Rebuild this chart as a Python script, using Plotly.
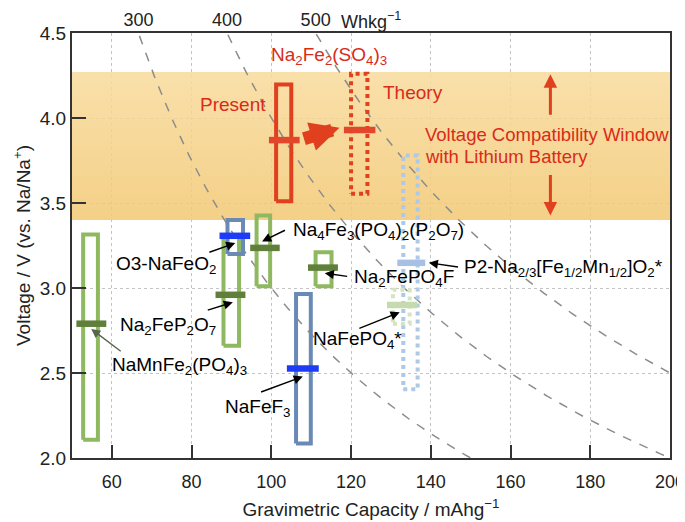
import numpy as np
import plotly.graph_objects as go

# ---------------- data ----------------
# rectangles (capacity range / voltage range) for each material
box_names = ["NaMnFe2(PO4)3", "Na2FeP2O7", "O3-NaFeO2", "Na4Fe3(PO4)2(P2O7)", "NaFeF3",
             "Na2FePO4F", "Na2Fe2(SO4)3 present", "Na2Fe2(SO4)3 theory",
             "P2-Na2/3[Fe1/2Mn1/2]O2", "NaFePO4"]
box_c_lo = [52.8, 88.0, 89.0, 96.3, 106.2, 111.1, 101.2, 120.0, 133.1, 130.5]
box_c_hi = [56.5, 91.9, 92.9, 99.7, 109.9, 115.1, 105.0, 124.1, 136.7, 134.7]
box_v_lo = [2.108, 2.66, 3.20, 3.01, 2.085, 3.01, 3.51, 3.555, 2.405, 2.79]
box_v_hi = [3.315, 3.31, 3.40, 3.427, 2.965, 3.21, 4.197, 4.26, 3.78, 2.99]
# average-voltage bars
bar_c_lo = [51.1, 86.0, 87.0, 94.7, 103.9, 109.2, 99.4, 118.2, 131.6, 129.0]
bar_c_hi = [58.6, 93.5, 94.7, 102.1, 111.9, 116.7, 107.1, 126.1, 138.6, 136.6]
bar_v = [2.79, 2.96, 3.307, 3.236, 2.527, 3.12, 3.87, 3.93, 3.148, 2.90]

# voltage compatibility window
band_v_lo = 3.40
band_v_hi = 4.27

# iso-energy-density curves (Wh/kg)
energy_levels = [300, 400, 500]
top_tick_text = ["300", "400", "500"]

x_ticks = [60, 80, 100, 120, 140, 160, 180, 200]
y_ticks = [2.0, 2.5, 3.0, 3.5, 4.0, 4.5]

# material labels with arrows
label_text = ["O3-NaFeO<sub>2</sub>", "Na<sub>2</sub>FeP<sub>2</sub>O<sub>7</sub>",
              "NaMnFe<sub>2</sub>(PO<sub>4</sub>)<sub>3</sub>",
              "Na<sub>4</sub>Fe<sub>3</sub>(PO<sub>4</sub>)<sub>2</sub>(P<sub>2</sub>O<sub>7</sub>)",
              "Na<sub>2</sub>FePO<sub>4</sub>F",
              "P2-Na<sub>2/3</sub>[Fe<sub>1/2</sub>Mn<sub>1/2</sub>]O<sub>2</sub>*",
              "NaFePO<sub>4</sub>*", "NaFeF<sub>3</sub>"]
label_c = [73.46, 73.96, 76.98, 126.9, 133.2, 173.3, 121.6, 96.42]
label_v = [3.138, 2.778, 2.542, 3.338, 3.061, 3.12, 2.696, 2.295]
arrow_tail_c = [84.08, 83.68, 62.6, 103.8, 119.4, 147.2, 121.7, 97.05]
arrow_tail_v = [3.207, 2.867, 2.621, 3.344, 3.067, 3.122, 2.759, 2.385]
arrow_head_c = [90.95, 90.35, 54.82, 97.68, 113.4, 139.5, 132.2, 107.9]
arrow_head_v = [3.264, 2.916, 2.759, 3.274, 3.087, 3.148, 2.857, 2.479]

# Na2Fe2(SO4)3 annotations
present_to_theory_c = [107.8, 117.1]
present_to_theory_v = [3.875, 3.942]
window_arrow_c = 170.0
window_up_v = [4.01, 4.258]
window_down_v = [3.673, 3.427]

# ---------------- styles ----------------
FONT = "Liberation Sans, Arial, Helvetica, sans-serif"
GREEN_BOX = "#8fb960"
GREEN_BAR = "#5f7f3a"
SLATE = "#6a8ab5"
BLUE = "#1e3cf5"
RED = "#e0401e"
RED_TXT = "#d92b1a"
LBLUE = "#aec8e8"
LGREEN = "#d3e4c0"

box_colors = [GREEN_BOX, GREEN_BOX, SLATE, GREEN_BOX, SLATE, GREEN_BOX, RED, RED, LBLUE, LGREEN]
box_dash = ["solid"] * 7 + ["dot", "dot", "dot"]
bar_colors = [GREEN_BAR, GREEN_BAR, BLUE, GREEN_BAR, BLUE, GREEN_BAR, "#e2472b", "#e2472b",
              "#a7c0e4", "#c6dab0"]
arrow_colors = ["black", "black", "#56664a", "black", "black", "black", "black", "black"]

fig = go.Figure()

# band (gradient)
fig.add_trace(go.Scatter(
    x=[50, 200, 200, 50, 50],
    y=[band_v_lo, band_v_lo, band_v_hi, band_v_hi, band_v_lo],
    mode="lines", line=dict(width=0), fill="toself",
    fillgradient=dict(type="vertical",
                      colorscale=[[0, "rgba(242,200,114,0.85)"], [1, "rgba(248,218,155,0.85)"]]),
    hoverinfo="skip", showlegend=False))

# iso-energy curves
c_grid = np.linspace(50, 200, 400)
for e in energy_levels:
    v = e / c_grid
    m = (v >= 2.0) & (v <= 4.5)
    fig.add_trace(go.Scatter(x=c_grid[m], y=v[m], mode="lines",
                             line=dict(color="#8c8c8c", width=1.5, dash="9px,9px"),
                             hoverinfo="skip", showlegend=False))

# boxes and bars
for i in range(len(box_names)):
    fig.add_trace(go.Scatter(
        x=[box_c_lo[i], box_c_hi[i], box_c_hi[i], box_c_lo[i], box_c_lo[i]],
        y=[box_v_lo[i], box_v_lo[i], box_v_hi[i], box_v_hi[i], box_v_lo[i]],
        mode="lines", line=dict(color=box_colors[i], width=4, dash=box_dash[i]),
        name=box_names[i], showlegend=False, hoverinfo="skip"))
    fig.add_trace(go.Scatter(
        x=[bar_c_lo[i], bar_c_hi[i]], y=[bar_v[i], bar_v[i]],
        mode="lines", line=dict(color=bar_colors[i], width=6.5),
        showlegend=False, hoverinfo="skip"))

# dummy trace for top axis
fig.add_trace(go.Scatter(x=[], y=[], xaxis="x2", showlegend=False))

ann = []
for i in range(len(label_text)):
    ann.append(dict(x=label_c[i], y=label_v[i], xref="x", yref="y", text=label_text[i],
                    showarrow=False, font=dict(size=19, color="black", family=FONT)))
    ann.append(dict(x=arrow_head_c[i], y=arrow_head_v[i], ax=arrow_tail_c[i], ay=arrow_tail_v[i],
                    xref="x", yref="y", axref="x", ayref="y", text="", showarrow=True,
                    arrowhead=2, arrowsize=1.3, arrowwidth=1.4, arrowcolor=arrow_colors[i]))

# Na2Fe2(SO4)3 texts
ann += [
    dict(x=114.4, y=4.364, xref="x", yref="y", showarrow=False,
         text="Na<sub>2</sub>Fe<sub>2</sub>(SO<sub>4</sub>)<sub>3</sub>",
         font=dict(size=19, color=RED_TXT, family=FONT)),
    dict(x=99.06, y=4.081, xref="x", yref="y", showarrow=False, xanchor="right",
         text="Present", font=dict(size=19, color=RED_TXT, family=FONT)),
    dict(x=127.6, y=4.152, xref="x", yref="y", showarrow=False, xanchor="left",
         text="Theory", font=dict(size=19, color=RED_TXT, family=FONT)),
    dict(x=138.0, y=3.905, xref="x", yref="y", showarrow=False, xanchor="left",
         text="Voltage Compatibility Window", font=dict(size=18.5, color=RED_TXT, family=FONT)),
    dict(x=138.0, y=3.771, xref="x", yref="y", showarrow=False, xanchor="left",
         text="with Lithium Battery", font=dict(size=18.5, color=RED_TXT, family=FONT)),
    dict(x=present_to_theory_c[1], y=present_to_theory_v[1],
         ax=present_to_theory_c[0], ay=present_to_theory_v[0],
         xref="x", yref="y", axref="x", ayref="y", text="", showarrow=True,
         arrowhead=2, arrowsize=0.45, arrowwidth=13, arrowcolor=RED),
    dict(x=window_arrow_c, y=window_up_v[1], ax=window_arrow_c, ay=window_up_v[0],
         xref="x", yref="y", axref="x", ayref="y", text="", showarrow=True,
         arrowhead=2, arrowsize=0.9, arrowwidth=3, arrowcolor=RED),
    dict(x=window_arrow_c, y=window_down_v[1], ax=window_arrow_c, ay=window_down_v[0],
         xref="x", yref="y", axref="x", ayref="y", text="", showarrow=True,
         arrowhead=2, arrowsize=0.9, arrowwidth=3, arrowcolor=RED),
    dict(x=117.1, y=1.0, xref="x", yref="paper", xanchor="left", yanchor="bottom",
         yshift=0, borderpad=0, showarrow=False, text="Whkg<sup>−1</sup>",
         font=dict(size=18, color="#222", family=FONT)),
]

axis_common = dict(ticks="inside", tickwidth=2, tickcolor="#333", showline=True,
                   linecolor="#333", linewidth=2, mirror=True, showgrid=True,
                   gridcolor="#c4c4c4", griddash="dot", gridwidth=1, zeroline=False,
                   automargin=False, ticklabeloverflow="allow")

# the page body adds an 8px offset, so the figure is sized to fit the 685x522 window
fig.update_layout(
    width=677, height=514,
    margin=dict(l=64, r=15, t=25, b=64),
    paper_bgcolor="white", plot_bgcolor="white",
    font=dict(family=FONT, size=19, color="#222"),
    xaxis=dict(range=[50, 200], tickvals=x_ticks, ticklen=13, ticklabelstandoff=6,
               tickfont=dict(size=18, color="#222", family=FONT),
               title=dict(text="Gravimetric Capacity / mAhg<sup>−1</sup>",
                          font=dict(size=19, color="#222"), standoff=12),
               **axis_common),
    yaxis=dict(range=[2.0, 4.5], tickvals=y_ticks, tickformat=".1f", ticklen=14,
               tickfont=dict(size=19, color="#222", family=FONT),
               title=dict(text="Voltage / V (vs. Na/Na<sup>+</sup>)",
                          font=dict(size=19, color="#222"), standoff=4),
               **axis_common),
    xaxis2=dict(overlaying="x", side="top", range=[50, 200],
                tickvals=[e / 4.5 for e in energy_levels], ticktext=top_tick_text,
                showgrid=False, showline=False, ticks="", zeroline=False,
                automargin=False, ticklabelstandoff=2,
                tickfont=dict(size=18, color="#222", family=FONT)),
    annotations=ann,
    showlegend=False,
)

fig.write_html("out.html")
